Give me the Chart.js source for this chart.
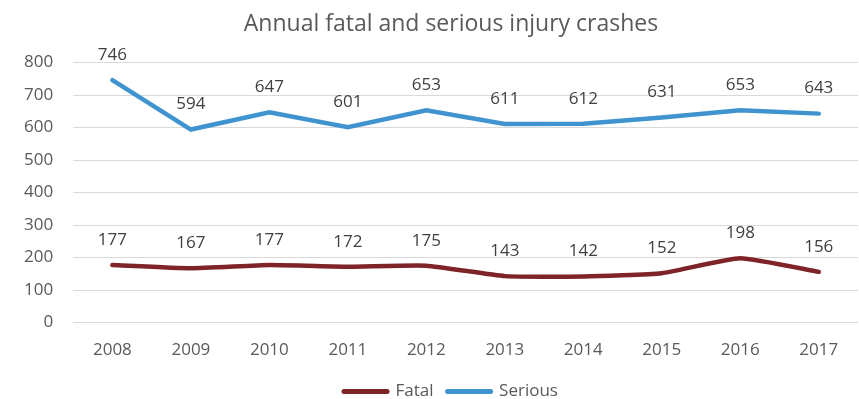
<!DOCTYPE html>
<html>
<head>
<meta charset="utf-8">
<script src="https://cdn.jsdelivr.net/npm/chart.js@4/dist/chart.umd.min.js"></script>
<style>
  html, body { margin: 0; padding: 0; background: #fff; }
  #wrap { width: 859px; height: 399px; position: relative; }
</style>
</head>
<body>
<div id="wrap"><canvas id="c"></canvas></div>
<script>
const years = ['2008', '2009', '2010', '2011', '2012', '2013', '2014', '2015', '2016', '2017'];
const fatal = [177, 167, 177, 172, 175, 143, 142, 152, 198, 156];
const serious = [746, 594, 647, 601, 653, 611, 612, 631, 653, 643];
const yTicks = [0, 100, 200, 300, 400, 500, 600, 700, 800];

const FONT = "'Open Sans', 'Noto Sans', sans-serif";

// Writes each point's value just above it
const valueLabels = {
  id: 'valueLabels',
  afterDatasetsDraw(chart) {
    const ctx = chart.ctx;
    ctx.save();
    ctx.font = '17px ' + FONT;
    ctx.fillStyle = '#404040';
    ctx.textAlign = 'center';
    ctx.textBaseline = 'middle';
    chart.data.datasets.forEach((ds, i) => {
      const meta = chart.getDatasetMeta(i);
      meta.data.forEach((pt, j) => {
        ctx.fillText(String(ds.data[j]), pt.x, pt.y - 25);
      });
    });
    ctx.restore();
  }
};

// Centres the title and legend over the plot rather than the whole canvas
const centreOverPlot = {
  id: 'centreOverPlot',
  afterLayout(chart) {
    const shift = 20;
    [chart.titleBlock, chart.legend].forEach(box => {
      if (box) { box.left += shift; box.right += shift; }
    });
  }
};

new Chart(document.getElementById('c'), {
  type: 'line',
  data: {
    labels: years,
    datasets: [
      {
        label: 'Fatal',
        data: fatal,
        borderColor: '#7E2428',
        backgroundColor: '#7E2428',
        borderWidth: 4.5,
        pointRadius: 0,
        tension: 0.15,
        borderCapStyle: 'round'
      },
      {
        label: 'Serious',
        data: serious,
        borderColor: '#3F94CF',
        backgroundColor: '#3F94CF',
        borderWidth: 4.5,
        pointRadius: 0,
        tension: 0,
        borderCapStyle: 'round'
      }
    ]
  },
  options: {
    responsive: true,
    maintainAspectRatio: false,
    animation: false,
    layout: { padding: { left: 4, right: 1, top: 0, bottom: -11 } },
    plugins: {
      title: {
        display: true,
        text: 'Annual fatal and serious injury crashes',
        color: '#595959',
        font: { family: FONT, size: 23, weight: 'normal' },
        padding: { top: 11, bottom: 24 }
      },
      legend: {
        display: true,
        position: 'bottom',
        labels: {
          usePointStyle: true,
          pointStyle: 'line',
          pointStyleWidth: 43,
          color: '#595959',
          font: { family: FONT, size: 17 },
          padding: 14,
          generateLabels(chart) {
            return chart.data.datasets.map((ds, i) => ({
              text: ds.label,
              strokeStyle: ds.borderColor,
              fillStyle: ds.borderColor,
              lineWidth: 5,
              lineCap: 'round',
              pointStyle: 'line',
              datasetIndex: i,
              hidden: false,
              fontColor: '#595959'
            }));
          }
        }
      },
      tooltip: { enabled: false }
    },
    scales: {
      x: {
        offset: true,
        grid: { display: false },
        border: { display: false },
        ticks: {
          color: '#595959',
          font: { family: FONT, size: 17 },
          padding: 9
        }
      },
      y: {
        min: 0,
        max: 800,
        afterBuildTicks(scale) {
          scale.ticks = yTicks.map(v => ({ value: v }));
        },
        grid: { color: '#d9d9d9', lineWidth: 1, drawTicks: false },
        border: { display: false },
        ticks: {
          color: '#595959',
          font: { family: FONT, size: 17 },
          padding: 20
        }
      }
    }
  },
  plugins: [valueLabels, centreOverPlot]
});
</script>
</body>
</html>
